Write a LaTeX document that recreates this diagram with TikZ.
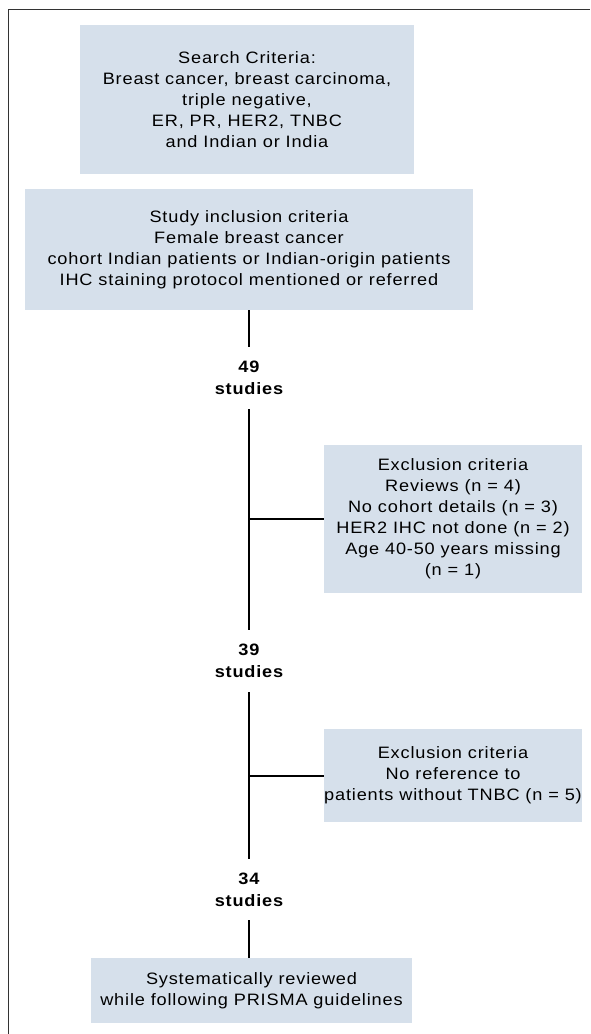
\documentclass[tikz,border=0pt]{standalone}
\usepackage{fontspec}
\setmainfont{Liberation Sans}[FakeStretch=1.1, LetterSpace=5]
\usepackage{xcolor}
\definecolor{boxfill}{HTML}{D6E0EB}
\definecolor{framegray}{HTML}{333333}

\begin{document}
\begin{tikzpicture}[x=1pt, y=-1pt,
    box/.style={fill=boxfill, align=center, inner sep=0pt,
        font=\fontsize{16.5}{21}\selectfont},
    count/.style={align=center, inner sep=0pt, minimum height=62pt,
        font=\fontsize{16.5}{22}\selectfont\bfseries},
    link/.style={line width=2pt, black}]
    \useasboundingbox (0, 0) rectangle (590, 1034);

    % Frame — only top and left edges show
    \draw[framegray, line width=1.5pt] (8.5, 1034) |- (590, 9.5);

    % Search and inclusion boxes
    \node[box, minimum width=334pt, minimum height=149pt] (search) at (247, 99.5)
        {Search Criteria:\\Breast cancer, breast carcinoma,\\triple negative,\\ER, PR, HER2, TNBC\\and Indian or India};
    \node[box, minimum width=448pt, minimum height=121pt] (incl) at (249, 249.5)
        {Study inclusion criteria\\Female breast cancer\\cohort Indian patients or Indian-origin patients\\IHC staining protocol mentioned or referred};

    % Study counts on the main line
    \node[count] (n49) at (249, 378) {49\\studies};
    \node[count] (n39) at (249, 661) {39\\studies};
    \node[count, minimum height=61pt] (n34) at (249, 889.5) {34\\studies};

    % Exclusion boxes — to the right
    \node[box, minimum width=258pt, minimum height=148pt] (excl1) at (453, 519)
        {Exclusion criteria\\Reviews (n = 4)\\No cohort details (n = 3)\\HER2 IHC not done (n = 2)\\Age 40-50 years missing\\(n = 1)};
    \node[box, minimum width=258pt, minimum height=93pt] (excl2) at (453, 775.5)
        {Exclusion criteria\\No reference to\\patients without TNBC (n = 5)};

    % Final box
    \node[box, minimum width=321pt, minimum height=65pt] (final) at (251.5, 990.5)
        {Systematically reviewed\\while following PRISMA guidelines};

    % Main line
    \draw[link] (incl.south -| n49.north) -- (n49.north);
    \draw[link] (n49.south) -- (n39.north);
    \draw[link] (n39.south) -- (n34.north);
    \draw[link] (n34.south) -- (n34.south |- final.north);

    % Branches
    \draw[link] (n49.south |- excl1.west) -- (excl1.west);
    \draw[link] (n39.south |- excl2.west) -- (excl2.west);
\end{tikzpicture}
\end{document}
